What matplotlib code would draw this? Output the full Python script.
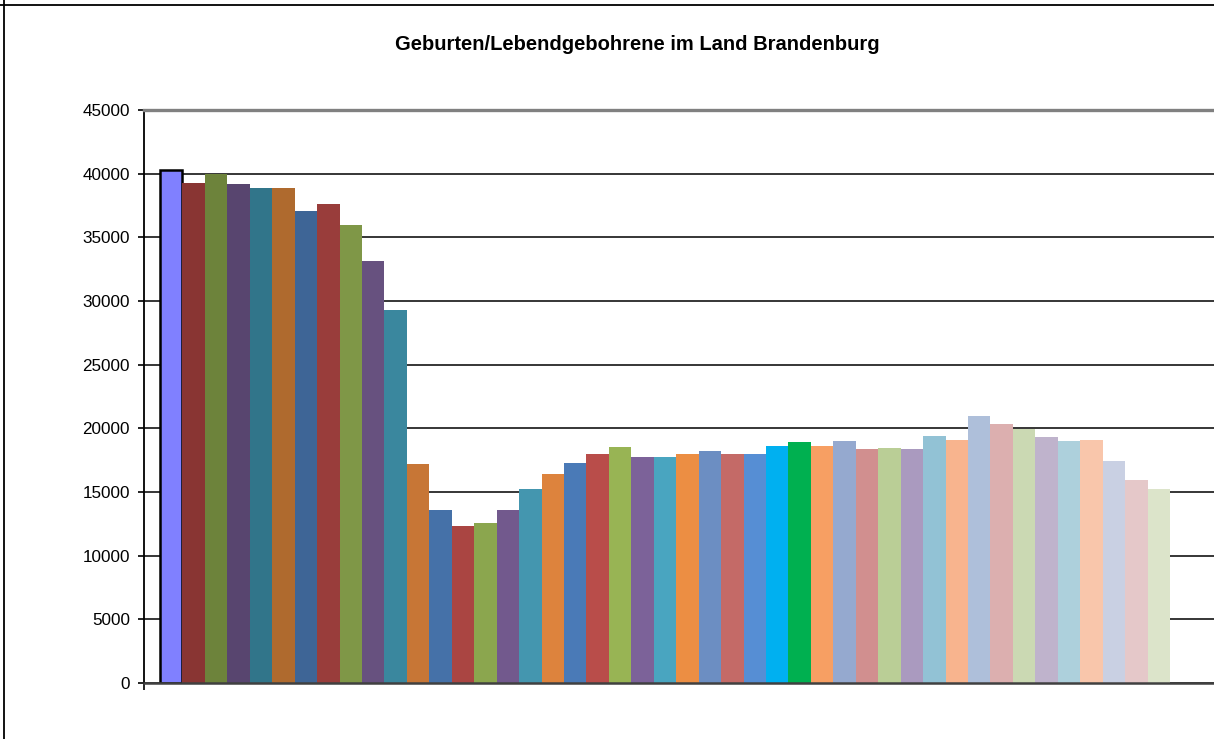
import matplotlib
matplotlib.use("Agg")
import matplotlib.pyplot as plt
from matplotlib.lines import Line2D

plt.rcParams['font.family'] = ['Liberation Sans', 'DejaVu Sans']

title = "Geburten/Lebendgebohrene im Land Brandenburg"
years = list(range(1980, 2025))
births = [40250, 39270, 40000, 39190, 38860, 38860, 37100, 37610, 35930, 33110,
          29310, 17230, 13570, 12310, 12550, 13570, 15250, 16400, 17270, 17980,
          18500, 17740, 17740, 17980, 18190, 17980, 17980, 18610, 18900, 18580,
          18980, 18350, 18460, 18350, 19400, 19080, 20970, 20340, 19920, 19290,
          18980, 19080, 17410, 15940, 15210]
colors = ["#8080FF", "#893533", "#6D833B", "#58456F", "#31758A", "#AF6A2E",
          "#3E6596", "#993D3B", "#7F9747", "#67517F", "#3A879E", "#C77636",
          "#4571A8", "#AA4542", "#8BA64E", "#72598D", "#4496AF", "#DD833D",
          "#4A7AB7", "#B94D4A", "#98B454", "#7C6299", "#49A5C0", "#EC8E43",
          "#6C8EC2", "#C46A67", "#568ED4", "#00B0F0", "#00B050", "#F79F63",
          "#95A9CF", "#D18F8F", "#BACE96", "#AA9ABF", "#92C2D5", "#F8B48E",
          "#AEBFDA", "#DCAFAF", "#CBD9B3", "#BFB3CC", "#ADD0DC", "#F9C6AB",
          "#C9D0E3", "#E5C8C9", "#DCE4CA"]
yticks = list(range(0, 45001, 5000))

W, H = 1214, 739
fig = plt.figure(figsize=(W / 100, H / 100), dpi=100)
fig.patch.set_facecolor("white")

ax_left = 144 / W
ax_bottom = 1 - 683 / H
ax_top = 1 - 110 / H
ax = fig.add_axes([ax_left, ax_bottom, 1.0 - ax_left, ax_top - ax_bottom])

x = list(range(len(years)))
bars = ax.bar(x, births, width=1.0, color=colors, edgecolor="none", zorder=3)
bars[0].set_edgecolor("black")
bars[0].set_linewidth(1.8)

px = 1010 / len(years)
xl = -0.5 - 16 / px
ax.set_xlim(xl, xl + (W - 144) / px)
ax.set_ylim(0, 45000)

ax.set_yticks(yticks)
ax.set_yticklabels([str(v) for v in yticks], fontsize=12.3)
ax.yaxis.grid(True, color="black", linewidth=1.1, zorder=1)
ax.set_axisbelow(True)
ax.tick_params(axis="y", direction="out", length=4, width=1.2, pad=6, color="black")
ax.set_xticks([xl])
ax.set_xticklabels([""])
ax.tick_params(axis="x", direction="out", length=5, width=1.2, color="black")

ax.spines["right"].set_visible(False)
ax.spines["left"].set_color("black")
ax.spines["left"].set_linewidth(1.3)
ax.spines["top"].set_color("#808080")
ax.spines["top"].set_linewidth(2.4)
ax.spines["bottom"].set_color("#404040")
ax.spines["bottom"].set_linewidth(1.8)
ax.spines["bottom"].set_zorder(4)

fig.text(637 / W, 1 - 44 / H, title, ha="center", va="center",
         fontsize=14.5, fontweight="bold")

# outer frame lines
fig.add_artist(Line2D([4 / W, 4 / W], [0, 1], color="black", linewidth=1.3))
fig.add_artist(Line2D([0, 1], [1 - 5 / H, 1 - 5 / H], color="black", linewidth=1.3))

fig.savefig("out.png", dpi=100)
